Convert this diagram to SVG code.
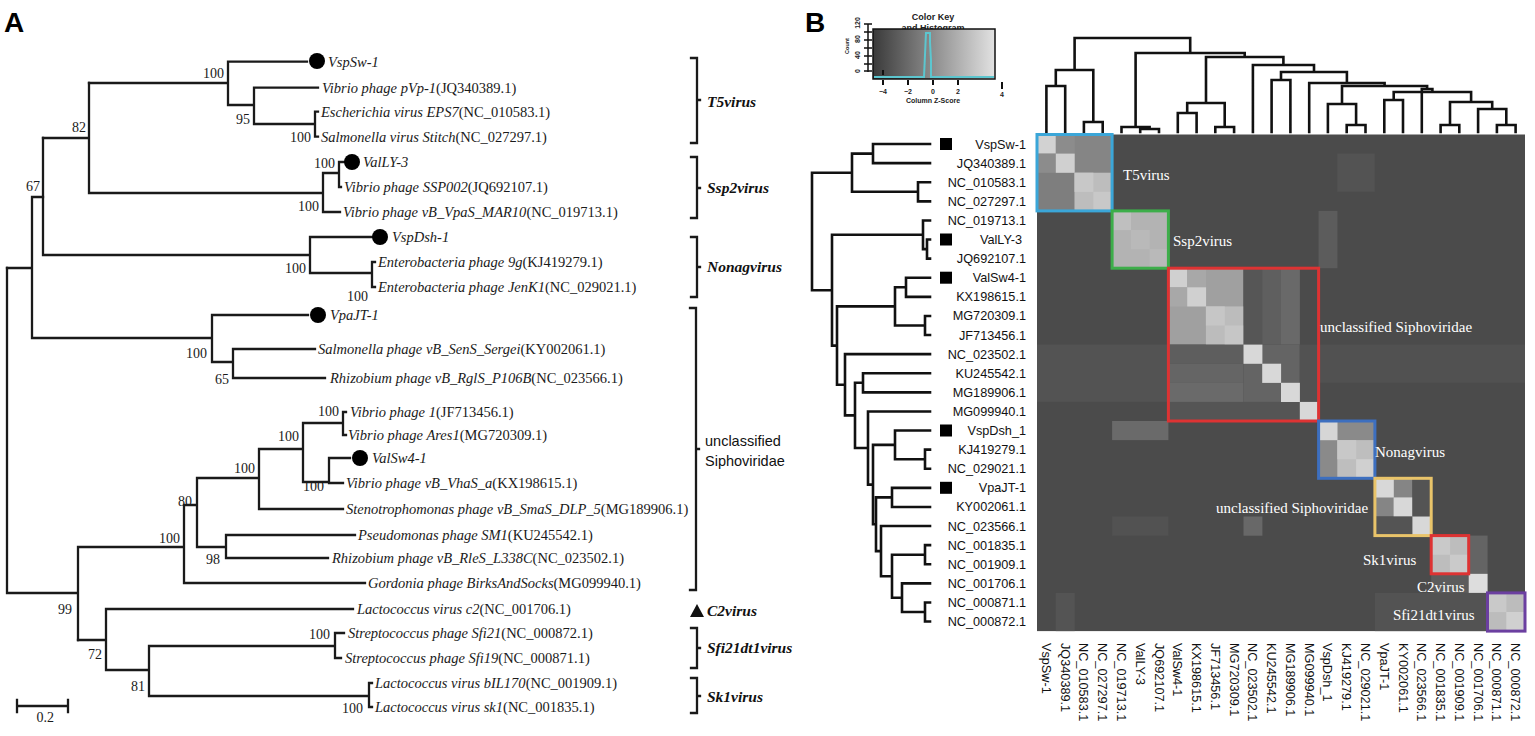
<svg xmlns="http://www.w3.org/2000/svg" width="1535" height="736" viewBox="0 0 1535 736">
<defs>
<linearGradient id="ck" x1="0" y1="0" x2="1" y2="0">
<stop offset="0" stop-color="#3a3a3a"/><stop offset="1" stop-color="#e2e2e2"/>
</linearGradient>
<style>
.br{fill:none;stroke:#1a1a1a;stroke-width:2.3;stroke-linecap:square}
.dg{fill:none;stroke:#111;stroke-width:2.6;stroke-linecap:square}
.lf{font-family:"Liberation Serif",serif;font-size:14.5px;font-style:italic;fill:#1a1a1a}
.lf tspan{font-style:normal}
.bs{font-family:"Liberation Serif",serif;font-size:14px;fill:#1a1a1a;text-anchor:end}
.gl{font-family:"Liberation Serif",serif;font-size:15.5px;font-style:italic;font-weight:bold;fill:#111}
.gs{font-family:"Liberation Sans",sans-serif;font-size:14.5px;fill:#111}
.pl{font-family:"Liberation Sans",sans-serif;font-size:28px;font-weight:bold;fill:#000}
.rl{font-family:"Liberation Sans",sans-serif;font-size:12.7px;fill:#111;text-anchor:end}
.cl{font-family:"Liberation Sans",sans-serif;font-size:12.7px;fill:#111}
.hl{font-family:"Liberation Serif",serif;font-size:15px;fill:#fff}
.ck{font-family:"Liberation Sans",sans-serif;font-weight:bold;fill:#222}
.bx{fill:none;stroke-width:3}
</style>
</defs>
<rect width="1535" height="736" fill="#fff"/>

<text class="pl" x="4" y="32">A</text>
<text class="pl" x="805" y="32">B</text>

<!-- Panel A tree branches -->
<g id="tree-a-connectors">
<path class="br" d="M89 83 H228 M228 61.7 V105 M228 61.7 H307 M228 105 H254 M254 87.7 V124 M254 87.7 H318 M254 124 H315 M315 111.7 V136.7 M315 111.7 H318 M315 136.7 H318"/>
<path class="br" d="M89 83 V193 M43 138 H89 M89 193 H323 M323 173 V212 M323 173 H339 M339 162 V187 M339 162 H344 M339 187 H341 M323 212 H340"/>
<path class="br" d="M43 138 V255 M43 255 H310 M310 237 V273 M310 237 H372 M310 273 H372 M372 262 V287 M372 262 H375 M372 287 H375"/>
<path class="br" d="M32 197 H43 M32 197 V338 M7 268 H32 M32 338 H212 M212 315 V362 M212 315 H308 M212 362 H233 M233 349 V378 M233 349 H315 M233 378 H325"/>
<path class="br" d="M7 268 V593 M7 593 H78 M78 547 V640 M78 547 H184 M184 505 V583 M184 583 H365 M184 505 H197 M197 478 V547 M197 478 H259 M259 449 V509 M259 509 H343 M259 449 H303 M303 423 V482 M303 423 H343 M343 412 V435 M343 412 H346 M343 435 H346 M303 482 H329 M329 458 V483 M329 458 H350 M329 483 H343 M197 547 H226 M226 535 V558 M226 535 H355 M226 558 H328"/>
<path class="br" d="M78 640 H106 M106 609 V670 M106 609 H353 M106 670 H149 M149 646 V696 M149 646 H335 M335 633 V658 M335 633 H344 M335 658 H341 M149 696 H369 M369 683 V707 M369 683 H372 M369 707 H372"/>
<path class="br" d="M17 700 V712 M17 706 H68 M68 700 V712"/>
</g>

<g id="bootstrap">
<text class="bs" x="224" y="78">100</text>
<text class="bs" x="250" y="124">95</text>
<text class="bs" x="311" y="142">100</text>
<text class="bs" x="86" y="132">82</text>
<text class="bs" x="335" y="168">100</text>
<text class="bs" x="319" y="211">100</text>
<text class="bs" x="40" y="191">67</text>
<text class="bs" x="306" y="273">100</text>
<text class="bs" x="368" y="301">100</text>
<text class="bs" x="207" y="358">100</text>
<text class="bs" x="229" y="384">65</text>
<text class="bs" x="339" y="416">100</text>
<text class="bs" x="299" y="441">100</text>
<text class="bs" x="324" y="491">100</text>
<text class="bs" x="255" y="473">100</text>
<text class="bs" x="192" y="506">80</text>
<text class="bs" x="220" y="564">98</text>
<text class="bs" x="180" y="543">100</text>
<text class="bs" x="72" y="614">99</text>
<text class="bs" x="102" y="659">72</text>
<text class="bs" x="145" y="691">81</text>
<text class="bs" x="330" y="639">100</text>
<text class="bs" x="363" y="713">100</text>
<text class="bs" x="54" y="722">0.2</text>
</g>

<g id="leaf-VspSw-1"><circle cx="317" cy="61" r="8"/><text class="lf" x="328" y="67">VspSw-1</text></g>
<g id="leaf-JQ340389"><text class="lf" x="322" y="93">Vibrio phage pVp-1<tspan>(JQ340389.1)</tspan></text></g>
<g id="leaf-NC_010583"><text class="lf" x="321" y="117">Escherichia virus EPS7<tspan>(NC_010583.1)</tspan></text></g>
<g id="leaf-NC_027297"><text class="lf" x="321" y="142">Salmonella virus Stitch<tspan>(NC_027297.1)</tspan></text></g>
<g id="leaf-ValLY-3"><circle cx="352" cy="162" r="8"/><text class="lf" x="363" y="167">ValLY-3</text></g>
<g id="leaf-JQ692107"><text class="lf" x="344" y="192">Vibrio phage SSP002<tspan>(JQ692107.1)</tspan></text></g>
<g id="leaf-NC_019713"><text class="lf" x="343" y="217">Vibrio phage vB_VpaS_MAR10<tspan>(NC_019713.1)</tspan></text></g>
<g id="leaf-VspDsh-1"><circle cx="380" cy="237" r="8"/><text class="lf" x="392" y="242">VspDsh-1</text></g>
<g id="leaf-KJ419279"><text class="lf" x="378" y="267">Enterobacteria phage 9g<tspan>(KJ419279.1)</tspan></text></g>
<g id="leaf-NC_029021"><text class="lf" x="378" y="292">Enterobacteria phage JenK1<tspan>(NC_029021.1)</tspan></text></g>
<g id="leaf-VpaJT-1"><circle cx="318" cy="315" r="8"/><text class="lf" x="330" y="320">VpaJT-1</text></g>
<g id="leaf-KY002061"><text class="lf" x="318" y="354">Salmonella phage vB_SenS_Sergei<tspan>(KY002061.1)</tspan></text></g>
<g id="leaf-NC_023566"><text class="lf" x="330" y="383">Rhizobium phage vB_RglS_P106B<tspan>(NC_023566.1)</tspan></text></g>
<g id="leaf-JF713456"><text class="lf" x="350" y="417">Vibrio phage 1<tspan>(JF713456.1)</tspan></text></g>
<g id="leaf-MG720309"><text class="lf" x="348" y="440">Vibrio phage Ares1<tspan>(MG720309.1)</tspan></text></g>
<g id="leaf-ValSw4-1"><circle cx="360" cy="458" r="8"/><text class="lf" x="372" y="463">ValSw4-1</text></g>
<g id="leaf-KX198615"><text class="lf" x="346" y="488">Vibrio phage vB_VhaS_a<tspan>(KX198615.1)</tspan></text></g>
<g id="leaf-MG189906"><text class="lf" x="346" y="514">Stenotrophomonas phage vB_SmaS_DLP_5<tspan>(MG189906.1)</tspan></text></g>
<g id="leaf-KU245542"><text class="lf" x="358" y="540">Pseudomonas phage SM1<tspan>(KU245542.1)</tspan></text></g>
<g id="leaf-NC_023502"><text class="lf" x="332" y="563">Rhizobium phage vB_RleS_L338C<tspan>(NC_023502.1)</tspan></text></g>
<g id="leaf-MG099940"><text class="lf" x="368" y="588">Gordonia phage BirksAndSocks<tspan>(MG099940.1)</tspan></text></g>
<g id="leaf-NC_001706"><text class="lf" x="357" y="614">Lactococcus virus c2<tspan>(NC_001706.1)</tspan></text></g>
<g id="leaf-NC_000872"><text class="lf" x="348" y="638">Streptococcus phage Sfi21<tspan>(NC_000872.1)</tspan></text></g>
<g id="leaf-NC_000871"><text class="lf" x="345" y="663">Streptococcus phage Sfi19<tspan>(NC_000871.1)</tspan></text></g>
<g id="leaf-NC_001909"><text class="lf" x="375" y="688">Lactococcus virus bIL170<tspan>(NC_001909.1)</tspan></text></g>
<g id="leaf-NC_001835"><text class="lf" x="375" y="712">Lactococcus virus sk1<tspan>(NC_001835.1)</tspan></text></g>

<g id="groups-a">
<path class="br" d="M691 58 H697 V143 H691 M697 100 H700"/>
<text class="gl" x="707" y="107">T5virus</text>
<path class="br" d="M691 157 H697 V218 H691 M697 188 H700"/>
<text class="gl" x="707" y="193">Ssp2virus</text>
<path class="br" d="M691 237 H697 V297 H691 M697 267 H700"/>
<text class="gl" x="707" y="272">Nonagvirus</text>
<path class="br" d="M690 308 H696 V590 H690 M696 449 H699"/>
<text class="gs" x="705" y="446">unclassified</text>
<text class="gs" x="705" y="466">Siphoviridae</text>
<polygon points="690,617 697,604 704,617" fill="#111"/>
<text class="gl" x="707" y="616">C2virus</text>
<path class="br" d="M691 628 H697 V668 H691 M697 648 H700"/>
<text class="gl" x="707" y="653">Sfi21dt1virus</text>
<path class="br" d="M691 678 H697 V713 H691 M697 696 H700"/>
<text class="gl" x="707" y="702">Sk1virus</text>
</g>

<!-- Panel B: color key -->
<g id="color-key">
<text class="ck" x="933" y="20" font-size="9" text-anchor="middle">Color Key</text>
<text class="ck" x="933" y="31" font-size="9" text-anchor="middle">and Histogram</text>
<rect x="873" y="29" width="122" height="50" fill="url(#ck)" stroke="#111" stroke-width="1.5"/>
<path d="M874 77 H924 L926 33 H930 V42 L931 60 V77 H994" fill="none" stroke="#5cc6cf" stroke-width="2"/>
<path d="M883 70 V75" stroke="#111" stroke-width="2"/>
<path d="M868 24 V72 M864 24 H872 M864 32 H872 M864 40 H872 M864 48 H872 M864 56 H872 M864 64 H872 M864 71 H872" stroke="#111" stroke-width="1.5" fill="none"/>
<text class="ck" font-size="7" transform="translate(860,71) rotate(-90)" text-anchor="middle">0</text>
<text class="ck" font-size="7" transform="translate(860,55) rotate(-90)" text-anchor="middle">40</text>
<text class="ck" font-size="7" transform="translate(860,39) rotate(-90)" text-anchor="middle">80</text>
<text class="ck" font-size="7" transform="translate(860,23) rotate(-90)" text-anchor="middle">120</text>
<text class="ck" font-size="5.5" font-weight="normal" transform="translate(849,46) rotate(-90)" text-anchor="middle">Count</text>
<path d="M883 80 V85 M908 80 V85 M933 80 V85 M958 80 V85 M1002 82 V89" stroke="#111" stroke-width="2" fill="none"/>
<text class="ck" font-size="7" x="883" y="94" text-anchor="middle">−4</text>
<text class="ck" font-size="7" x="908" y="94" text-anchor="middle">−2</text>
<text class="ck" font-size="7" x="933" y="94" text-anchor="middle">0</text>
<text class="ck" font-size="7" x="958" y="94" text-anchor="middle">2</text>
<text class="ck" font-size="7" x="1002" y="97" text-anchor="middle">4</text>
<text class="ck" font-size="7" x="933" y="103" text-anchor="middle">Column Z-Score</text>
</g>

<!-- column dendrogram -->
<g id="col-dendrogram">
<path class="dg" d="M1046.4 132 V86 H1065.2 V132 M1083.9 132 V122 H1102.7 V132 M1055.8 86 V70 H1093.3 V122 M1140.2 132 V129 H1159 V132 M1121.5 132 V127 H1149.6 V129 M1177.8 132 V113 H1196.6 V132 M1215.3 132 V127 H1234.1 V132 M1187.2 113 V103 H1224.7 V127 M1271.6 132 V80 H1290.4 V132 M1346.7 132 V125 H1365.5 V132 M1327.9 132 V104 H1356.1 V125 M1384.3 132 V100 H1403 V132 M1440.6 132 V125 H1459.3 V132 M1496.9 132 V125 H1515.6 V132 M1478.1 132 V109 H1506.3 V125 M1450 125 V102 H1492.2 V109 M1393.7 100 V92 H1471.1 V102 M1421.8 132 V89 H1432.4 V92 M1342 104 V86 H1427.1 V89 M1309.2 132 V83 H1384.6 V86 M1281 80 V72 H1346.9 V83 M1252.9 132 V65 H1314 V72 M1206 103 V57 H1283.4 V65 M1135.6 127 V53 H1244.7 V57 M1074.6 70 V38 H1190.2 V53"/>
</g>

<!-- row dendrogram -->
<g id="row-dendrogram">
<path class="dg" d="M930 144.05 H873 V163.15 H930 M930 182.25 H918 V201.35 H930 M873 153.6 H852 V191.8 H918 M930 239.55 H927 V258.65 H930 M930 220.45 H923 V249.1 H927 M930 277.75 H906 V296.85 H930 M930 315.95 H925 V335.05 H930 M906 287.3 H895 V325.5 H925 M930 373.25 H863 V392.35 H930 M930 449.65 H925 V468.75 H930 M930 430.55 H895 V459.2 H925 M930 487.85 H892 V506.95 H930 M930 545.15 H925 V564.25 H930 M930 602.45 H925 V621.55 H930 M930 583.35 H902 V612 H925 M925 554.7 H892 V597.7 H902 M930 526.05 H881 V576.2 H892 M892 497.4 H876 V551.1 H881 M895 444.9 H873 V524.3 H876 M930 411.45 H868 V484.6 H873 M863 382.8 H855 V448 H868 M930 354.15 H845 V415.4 H855 M895 306.4 H837 V384.8 H845 M923 234.8 H832 V345.6 H837 M852 172.7 H812 V290.2 H832"/>
</g>

<!-- heatmap -->
<g id="heatmap">
<rect x="1037" y="134.5" width="488" height="496.6" fill="#4b4b4b"/>
<rect x="1037" y="344.6" width="131.4" height="57.3" fill="#535353"/>
<rect x="1318.6" y="344.6" width="206.4" height="38.2" fill="#515151"/>
<rect x="1337.3" y="153.6" width="37.5" height="38.2" fill="#535353"/>
<!-- T5 -->
<rect x="1037" y="134.5" width="75.1" height="76.4" fill="#858585"/>
<rect x="1037" y="172.7" width="37.6" height="38.2" fill="#7e7e7e"/>
<rect x="1074.5" y="172.7" width="37.6" height="38.2" fill="#bdbdbd"/>
<rect x="1037" y="134.5" width="18.9" height="19.2" fill="#d2d2d2"/>
<rect x="1055.8" y="134.5" width="18.9" height="19.2" fill="#8c8c8c"/>
<rect x="1037" y="153.6" width="18.9" height="19.2" fill="#8c8c8c"/>
<rect x="1055.8" y="153.6" width="18.9" height="19.2" fill="#d0d0d0"/>
<rect x="1074.5" y="172.7" width="18.9" height="19.2" fill="#c8c8c8"/>
<rect x="1093.3" y="191.8" width="18.8" height="19.1" fill="#c8c8c8"/>
<!-- Ssp2 -->
<rect x="1112.1" y="210.9" width="56.3" height="57.3" fill="#b3b3b3"/>
<rect x="1112.1" y="210.9" width="18.9" height="19.2" fill="#bfbfbf"/>
<rect x="1130.9" y="230" width="18.9" height="19.2" fill="#b9b9b9"/>
<rect x="1149.6" y="249.1" width="18.8" height="19.1" fill="#b9b9b9"/>
<rect x="1318.6" y="210.9" width="18.8" height="57.3" fill="#5c5c5c"/>
<rect x="1112.1" y="421" width="56.3" height="19.1" fill="#6a6a6a"/>
<!-- unclassified -->
<rect x="1168.4" y="268.2" width="75.1" height="76.4" fill="#a0a0a0"/>
<rect x="1168.4" y="268.2" width="18.9" height="19.2" fill="#d0d0d0"/>
<rect x="1187.2" y="268.2" width="18.9" height="19.2" fill="#a8a8a8"/>
<rect x="1168.4" y="287.3" width="18.9" height="19.2" fill="#a8a8a8"/>
<rect x="1187.2" y="287.3" width="18.9" height="19.2" fill="#d0d0d0"/>
<rect x="1205.9" y="306.4" width="37.6" height="38.2" fill="#bcbcbc"/>
<rect x="1205.9" y="306.4" width="18.9" height="19.2" fill="#c6c6c6"/>
<rect x="1224.7" y="325.5" width="18.8" height="19.1" fill="#c6c6c6"/>
<rect x="1243.5" y="268.2" width="18.9" height="76.4" fill="#565656"/>
<rect x="1262.2" y="268.2" width="18.9" height="76.4" fill="#5f5f5f"/>
<rect x="1281" y="268.2" width="18.9" height="76.4" fill="#696969"/>
<rect x="1168.4" y="344.6" width="75.1" height="19.2" fill="#5e5e5e"/>
<rect x="1168.4" y="363.7" width="75.1" height="19.2" fill="#656565"/>
<rect x="1168.4" y="382.8" width="75.1" height="19.2" fill="#6a6a6a"/>
<rect x="1168.4" y="401.9" width="131.4" height="19.1" fill="#555555"/>
<rect x="1243.5" y="344.6" width="56.3" height="57.3" fill="#646464"/>
<rect x="1299.8" y="344.6" width="18.8" height="57.3" fill="#525252"/>
<rect x="1243.5" y="344.6" width="18.9" height="19.2" fill="#d8d8d8"/>
<rect x="1262.2" y="363.7" width="18.9" height="19.2" fill="#d8d8d8"/>
<rect x="1281" y="382.8" width="18.9" height="19.2" fill="#d8d8d8"/>
<rect x="1299.8" y="401.9" width="18.8" height="19.1" fill="#d8d8d8"/>
<!-- Nonag -->
<rect x="1318.6" y="421" width="56.3" height="57.3" fill="#8a8a8a"/>
<rect x="1337.3" y="440.1" width="37.6" height="38.2" fill="#bebebe"/>
<rect x="1318.6" y="421" width="18.9" height="19.2" fill="#d6d6d6"/>
<rect x="1337.3" y="440.1" width="18.9" height="19.2" fill="#c8c8c8"/>
<rect x="1356.1" y="459.2" width="18.8" height="19.1" fill="#d0d0d0"/>
<!-- VpaJT -->
<rect x="1374.9" y="478.3" width="37.6" height="38.2" fill="#858585"/>
<rect x="1374.9" y="478.3" width="18.9" height="19.2" fill="#d8d8d8"/>
<rect x="1393.6" y="497.4" width="18.9" height="19.2" fill="#d8d8d8"/>
<rect x="1412.4" y="478.3" width="18.9" height="38.2" fill="#545454"/>
<rect x="1374.9" y="516.5" width="37.6" height="19.2" fill="#545454"/>
<rect x="1412.4" y="516.5" width="18.9" height="19.2" fill="#d8d8d8"/>
<rect x="1243.5" y="516.5" width="18.9" height="19.2" fill="#686868"/>
<rect x="1112.1" y="516.5" width="56.3" height="19.2" fill="#525252"/>
<!-- Sk1, C2, Sfi -->
<rect x="1431.2" y="535.6" width="37.6" height="38.2" fill="#bdbdbd"/>
<rect x="1431.2" y="535.6" width="18.9" height="19.2" fill="#c9c9c9"/>
<rect x="1449.9" y="554.7" width="18.9" height="19.2" fill="#cacaca"/>
<rect x="1468.7" y="535.6" width="18.9" height="38.2" fill="#646464"/>
<rect x="1431.2" y="573.8" width="37.6" height="19.2" fill="#5c5c5c"/>
<rect x="1468.7" y="573.8" width="18.9" height="19.2" fill="#dddddd"/>
<rect x="1374.9" y="592.9" width="112.6" height="38.2" fill="#535353"/>
<rect x="1055.8" y="592.9" width="18.9" height="38.2" fill="#545454"/>
<rect x="1487.5" y="592.9" width="37.5" height="38.2" fill="#bcbcbc"/>
<rect x="1487.5" y="592.9" width="18.9" height="19.2" fill="#c9c9c9"/>
<rect x="1506.3" y="612" width="18.7" height="19.1" fill="#d0d0d0"/>
</g>

<g id="cluster-boxes">
<rect class="bx" x="1037" y="134.5" width="75.1" height="76.4" stroke="#3ba6d8"/>
<rect class="bx" x="1112.1" y="210.9" width="56.3" height="57.3" stroke="#3dae4a"/>
<rect class="bx" x="1168.4" y="268.2" width="150.2" height="152.8" stroke="#dd3333"/>
<rect class="bx" x="1318.6" y="421" width="56.3" height="57.3" stroke="#3d6fbf"/>
<rect class="bx" x="1374.9" y="478.3" width="56.3" height="57.3" stroke="#e9c46a"/>
<rect class="bx" x="1431.2" y="535.6" width="37.5" height="38.2" stroke="#dd3333"/>
<rect class="bx" x="1487.5" y="592.9" width="37.5" height="38.2" stroke="#6b3fa0"/>
</g>

<g id="cluster-labels">
<text class="hl" x="1123" y="180">T5virus</text>
<text class="hl" x="1173" y="246">Ssp2virus</text>
<text class="hl" x="1320" y="332">unclassified Siphoviridae</text>
<text class="hl" x="1375" y="457">Nonagvirus</text>
<text class="hl" x="1216" y="513">unclassified Siphoviridae</text>
<text class="hl" x="1363" y="565">Sk1virus</text>
<text class="hl" x="1417" y="592">C2virus</text>
<text class="hl" x="1393" y="620">Sfi21dt1virus</text>
</g>

<g id="row-labels">
<rect x="940" y="138" width="12" height="12"/>
<rect x="940" y="233.5" width="12" height="12"/>
<rect x="940" y="271.7" width="12" height="12"/>
<rect x="940" y="424.5" width="12" height="12"/>
<rect x="940" y="481.8" width="12" height="12"/>
<text class="rl" x="1026" y="148.5">VspSw-1</text>
<text class="rl" x="1026" y="167.6">JQ340389.1</text>
<text class="rl" x="1026" y="186.7">NC_010583.1</text>
<text class="rl" x="1026" y="205.8">NC_027297.1</text>
<text class="rl" x="1026" y="225">NC_019713.1</text>
<text class="rl" x="1022" y="244">ValLY-3</text>
<text class="rl" x="1026" y="263.1">JQ692107.1</text>
<text class="rl" x="1026" y="282.2">ValSw4-1</text>
<text class="rl" x="1026" y="301.3">KX198615.1</text>
<text class="rl" x="1026" y="320.4">MG720309.1</text>
<text class="rl" x="1026" y="339.5">JF713456.1</text>
<text class="rl" x="1026" y="358.6">NC_023502.1</text>
<text class="rl" x="1026" y="377.7">KU245542.1</text>
<text class="rl" x="1026" y="396.8">MG189906.1</text>
<text class="rl" x="1026" y="416">MG099940.1</text>
<text class="rl" x="1026" y="435">VspDsh_1</text>
<text class="rl" x="1026" y="454.1">KJ419279.1</text>
<text class="rl" x="1026" y="473.2">NC_029021.1</text>
<text class="rl" x="1026" y="492.3">VpaJT-1</text>
<text class="rl" x="1026" y="511.4">KY002061.1</text>
<text class="rl" x="1026" y="530.5">NC_023566.1</text>
<text class="rl" x="1026" y="549.6">NC_001835.1</text>
<text class="rl" x="1026" y="568.7">NC_001909.1</text>
<text class="rl" x="1026" y="587.8">NC_001706.1</text>
<text class="rl" x="1026" y="607">NC_000871.1</text>
<text class="rl" x="1026" y="626">NC_000872.1</text>
</g>

<g id="col-labels">
<text class="cl" transform="translate(1041.9,643) rotate(90)">VspSw-1</text>
<text class="cl" transform="translate(1060.7,643) rotate(90)">JQ340389.1</text>
<text class="cl" transform="translate(1079.4,643) rotate(90)">NC_010583.1</text>
<text class="cl" transform="translate(1098.2,643) rotate(90)">NC_027297.1</text>
<text class="cl" transform="translate(1117,643) rotate(90)">NC_019713.1</text>
<text class="cl" transform="translate(1135.7,643) rotate(90)">ValLY-3</text>
<text class="cl" transform="translate(1154.5,643) rotate(90)">JQ692107.1</text>
<text class="cl" transform="translate(1173.3,643) rotate(90)">ValSw4-1</text>
<text class="cl" transform="translate(1192.1,643) rotate(90)">KX198615.1</text>
<text class="cl" transform="translate(1210.8,643) rotate(90)">JF713456.1</text>
<text class="cl" transform="translate(1229.6,643) rotate(90)">MG720309.1</text>
<text class="cl" transform="translate(1248.4,643) rotate(90)">NC_023502.1</text>
<text class="cl" transform="translate(1267.1,643) rotate(90)">KU245542.1</text>
<text class="cl" transform="translate(1285.9,643) rotate(90)">MG189906.1</text>
<text class="cl" transform="translate(1304.7,643) rotate(90)">MG099940.1</text>
<text class="cl" transform="translate(1323.4,643) rotate(90)">VspDsh_1</text>
<text class="cl" transform="translate(1342.2,643) rotate(90)">KJ419279.1</text>
<text class="cl" transform="translate(1361,643) rotate(90)">NC_029021.1</text>
<text class="cl" transform="translate(1379.8,643) rotate(90)">VpaJT-1</text>
<text class="cl" transform="translate(1398.5,643) rotate(90)">KY002061.1</text>
<text class="cl" transform="translate(1417.3,643) rotate(90)">NC_023566.1</text>
<text class="cl" transform="translate(1436.1,643) rotate(90)">NC_001835.1</text>
<text class="cl" transform="translate(1454.8,643) rotate(90)">NC_001909.1</text>
<text class="cl" transform="translate(1473.6,643) rotate(90)">NC_001706.1</text>
<text class="cl" transform="translate(1492.4,643) rotate(90)">NC_000871.1</text>
<text class="cl" transform="translate(1511.1,643) rotate(90)">NC_000872.1</text>
</g>
</svg>
